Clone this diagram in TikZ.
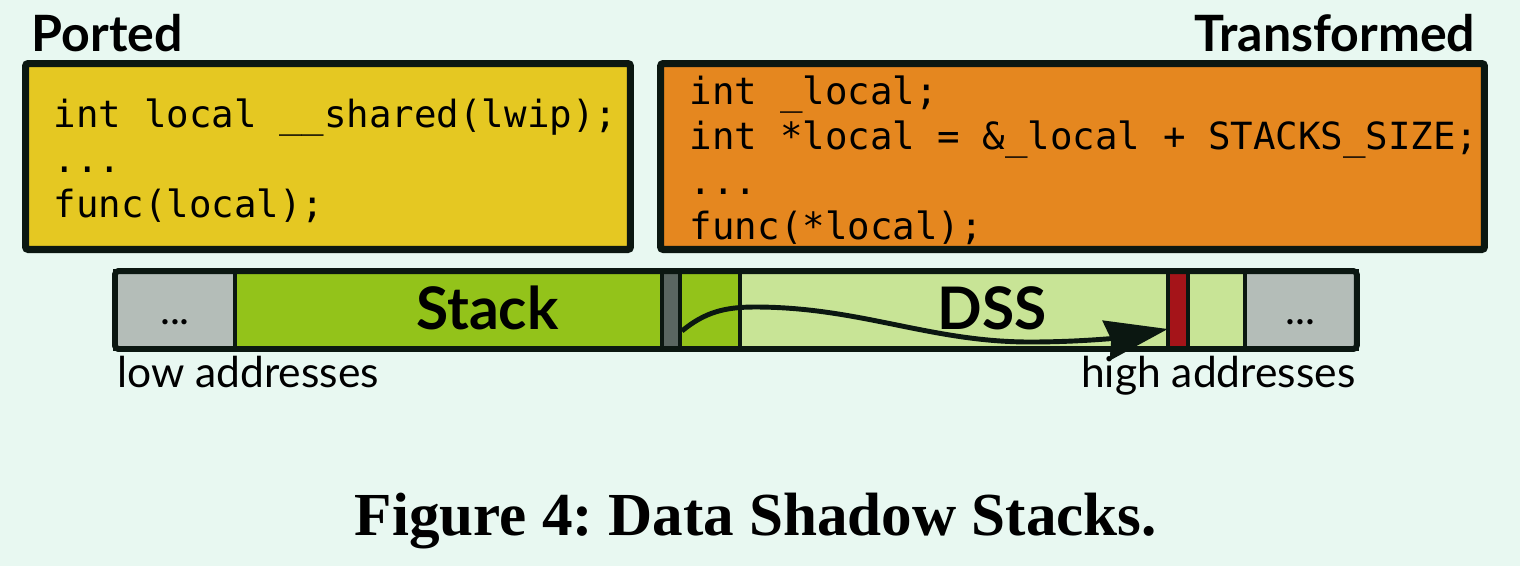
\documentclass[tikz,border=0pt]{standalone}
\usepackage{fontspec}
\setmainfont{Lato}
\newfontfamily\codefont{DejaVu Sans Mono}
\newfontfamily\capfont{Liberation Serif}
\usetikzlibrary{arrows.meta,positioning,fit,calc}
\definecolor{bgmint}{HTML}{E8F8F1}
\definecolor{ink}{HTML}{0B1711}
\definecolor{portyellow}{HTML}{E5C822}
\definecolor{transorange}{HTML}{E5871F}
\definecolor{stackgreen}{HTML}{93C31A}
\definecolor{dsslight}{HTML}{C8E496}
\definecolor{slotgray}{HTML}{B4BDB8}
\definecolor{spgray}{HTML}{5A6661}
\definecolor{guardred}{HTML}{A51419}
\tikzset{
  codebox/.style={rectangle, rounded corners=1.5pt, draw=ink, line width=4pt,
    minimum height=3.72cm, inner sep=0pt},
  code/.style={font=\codefont\fontsize{21.3}{25.6}\selectfont, align=left,
    inner sep=0pt, anchor=west},
  lbl/.style={font=\bfseries\fontsize{28.5}{30}\selectfont, inner sep=0pt},
  seg/.style={rectangle, draw=ink, line width=2pt, minimum height=1.56cm,
    inner sep=0pt, outer sep=0pt},
  region/.style={seg, font=\bfseries\fontsize{33.4}{36}\selectfont,
    text height=22pt, text depth=0pt},
  dotseg/.style={seg, fill=slotgray, font=\fontsize{24}{26}\selectfont,
    text height=16pt, text depth=0pt},
  marker/.style={seg, minimum width=0.36cm},
  addr/.style={font=\fontsize{24.2}{26}\selectfont, inner sep=0pt},
  flow/.style={-{Stealth[length=1.25cm, width=0.8cm, inset=0.1cm]}, line width=2.8pt, draw=ink},
}
\begin{document}
\begin{tikzpicture}[x=0.02cm, y=-0.02cm]
\useasboundingbox (0,0) rectangle (1520,566);
\fill[bgmint] (0,0) rectangle (1520,566);
% code boxes
\node[codebox, fill=portyellow, minimum width=12.1cm] (portbox) at (328,156.5) {};
\node[codebox, fill=transorange, minimum width=16.48cm] (transbox) at (1072.5,156.5) {};
\node[code] (portcode) at ($(portbox.west)+(31.5,4)$)
  {int local \_\_shared(lwip);\\...\\func(local);};
\node[code] (transcode) at ($(transbox.west)+(32.5,4)$)
  {int \_local;\\int *local = \&\_local + STACKS\_SIZE;\\...\\func(*local);};
\node[lbl, anchor=base west] (portlbl) at ($(portbox.north west)+(9.5,-8.5)$) {Ported};
\node[lbl, anchor=base east] (translbl) at ($(transbox.north east)+(-12.5,-8.5)$) {Transformed};
% memory bar
\node[dotseg, minimum width=2.4cm, anchor=west] (lowdots) at (115,310) {...};
\node[region, fill=stackgreen, minimum width=10.1cm, right=0pt of lowdots] (stackreg) {Stack};
\node[region, fill=dsslight, minimum width=10.1cm, right=0pt of stackreg] (dssreg) {DSS};
\node[dotseg, minimum width=2.24cm, right=0pt of dssreg] (highdots) {...};
\node[marker, fill=spgray, left=1.2cm of stackreg.east] (sp) {};
\node[marker, fill=guardred, minimum width=0.4cm, left=1.14cm of dssreg.east] (guard) {};
\node[fit=(lowdots)(highdots), draw=ink, line width=3.4pt, rounded corners=2pt,
  inner sep=0pt] (bar) {};
\node[addr, anchor=base west] (lowaddr) at ($(bar.south west)+(5,36)$) {low addresses};
\node[addr, anchor=base east] (highaddr) at ($(bar.south east)+(-4,36)$) {high addresses};
\draw[flow] ($(sp.south east)+(2,-18)$) .. controls (705,312) and (725,307) .. (755,307)
  .. controls (860,307) and (930,342) .. (1030,342)
  .. controls (1090,342) and (1130,336) .. (guard.west |- 0,329);
% caption
\node[font=\capfont\bfseries\fontsize{34.8}{38}\selectfont, anchor=base, inner sep=0pt]
  (caption) at (756,535) {\frenchspacing Figure 4: Data Shadow Stacks.};
\end{tikzpicture}
\end{document}
